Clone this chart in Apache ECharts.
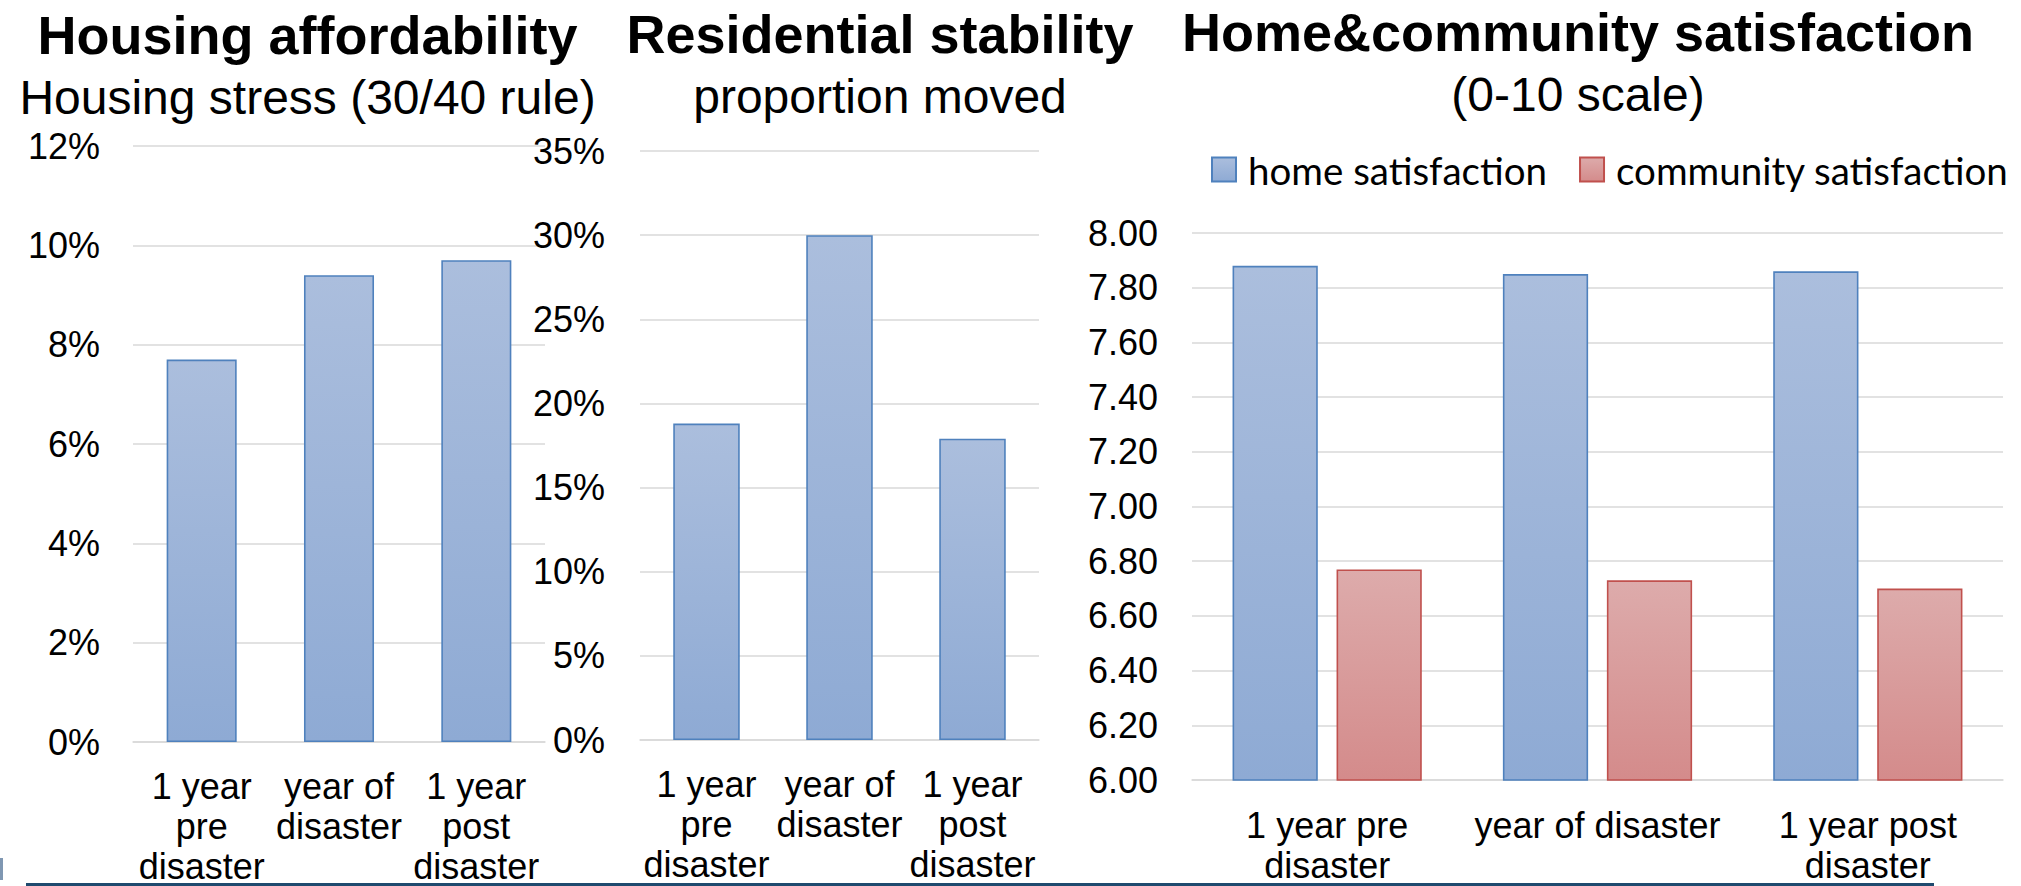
<!DOCTYPE html>
<html>
<head>
<meta charset="utf-8">
<script src="https://cdn.jsdelivr.net/npm/echarts@6/dist/echarts.min.js"></script>
<style>
  html, body { margin: 0; padding: 0; background: #fff; }
  #chart { width: 2021px; height: 886px; }
</style>
</head>
<body>
<div id="chart"></div>
<script>
// Periods on the category axes (narrow panels wrap more)
const periodsStacked = ['1 year\npre\ndisaster', 'year of\ndisaster', '1 year\npost\ndisaster'];
const periodsWide = ['1 year pre\ndisaster', 'year of disaster', '1 year post\ndisaster'];

// Share of households in housing stress (30/40 rule), %
const housingStress = [7.7, 9.4, 9.7];
// Share of households that moved, %
const proportionMoved = [18.8, 30.0, 17.9];
// Mean satisfaction, 0-10 scale
const homeSatisfaction = [7.88, 7.85, 7.86];
const communitySatisfaction = [6.77, 6.73, 6.70];

const seriesNames = ['home satisfaction', 'community satisfaction'];
const panelTitles = ['Housing affordability', 'Residential stability', 'Home&community satisfaction'];
const panelSubtitles = ['Housing stress (30/40 rule)', 'proportion moved', '(0-10 scale)'];

const FONT = '"Liberation Sans", Arial, Helvetica, sans-serif';
const LEGEND_FONT = 'Lato, "Open Sans", sans-serif';
const GRID_GREY = '#d9d9d9';

function vGrad(top, bottom) {
  return new echarts.graphic.LinearGradient(0, 0, 0, 1, [
    { offset: 0, color: top },
    { offset: 1, color: bottom }
  ]);
}
const blueStyle = { color: vGrad('#abbedd', '#8eaad4'), borderColor: '#4f81bd', borderWidth: 1.6 };
const redStyle = { color: vGrad('#ddabab', '#d48b8b'), borderColor: '#c0504d', borderWidth: 1.6 };

// Panel headings: bold title above a regular-weight subtitle
const centers = [307.5, 880, 1578];
const titleTops = [8, 7, 5];
const subTops = [73, 72, 70];
const titles = [];
panelTitles.forEach((t, i) => {
  titles.push({
    text: t, left: centers[i], top: titleTops[i], textAlign: 'center', padding: 0,
    textStyle: { fontFamily: FONT, fontSize: 54, fontWeight: 'bold', color: '#000' }
  });
  titles.push({
    text: panelSubtitles[i], left: centers[i], top: subTops[i], textAlign: 'center', padding: 0,
    textStyle: { fontFamily: FONT, fontSize: 48, fontWeight: 'normal', color: '#000' }
  });
});

function catAxis(gridIndex, data, margin) {
  return {
    type: 'category', gridIndex, data,
    axisTick: { show: false },
    axisLine: { lineStyle: { color: GRID_GREY, width: 1.5 } },
    axisLabel: {
      interval: 0, margin, fontFamily: FONT, fontSize: 36, lineHeight: 40, color: '#000'
    }
  };
}
function valAxis(gridIndex, min, max, interval, formatter, margin) {
  return {
    type: 'value', gridIndex, min, max, interval,
    axisLine: { show: false },
    axisTick: { show: false },
    splitLine: { lineStyle: { color: GRID_GREY, width: 1.5 } },
    axisLabel: { formatter, margin, fontFamily: FONT, fontSize: 36, color: '#000' }
  };
}

const option = {
  animation: false,
  backgroundColor: '#fff',
  title: titles,
  legend: {
    data: seriesNames,
    orient: 'horizontal',
    left: 1211, top: 150, width: 1200, padding: 0,
    icon: 'rect', itemWidth: 24, itemHeight: 24, itemGap: 32,
    textStyle: { fontFamily: LEGEND_FONT, fontSize: 38.5, lineHeight: 24, color: '#000', padding: [0, 0, 0, 7] }
  },
  grid: [
    { left: 133, top: 146, width: 412, height: 598 },
    { left: 640, top: 151, width: 399, height: 589 },
    { left: 1192, top: 233, width: 811, height: 547 }
  ],
  xAxis: [
    catAxis(0, periodsStacked, 24),
    catAxis(1, periodsStacked, 24),
    catAxis(2, periodsWide, 25)
  ],
  yAxis: [
    valAxis(0, 0, 12, 2, '{value}%', 33),
    valAxis(1, 0, 35, 5, '{value}%', 35),
    valAxis(2, 6, 8, 0.2, v => v.toFixed(2), 34)
  ],
  series: [
    { name: 'housing stress', type: 'bar', xAxisIndex: 0, yAxisIndex: 0, data: housingStress,
      barCategoryGap: '49%', itemStyle: blueStyle },
    { name: 'proportion moved', type: 'bar', xAxisIndex: 1, yAxisIndex: 1, data: proportionMoved,
      barCategoryGap: '50%', itemStyle: blueStyle },
    { name: seriesNames[0], type: 'bar', xAxisIndex: 2, yAxisIndex: 2, data: homeSatisfaction,
      barCategoryGap: '30%', barGap: '22%', itemStyle: blueStyle },
    { name: seriesNames[1], type: 'bar', xAxisIndex: 2, yAxisIndex: 2, data: communitySatisfaction,
      barCategoryGap: '30%', barGap: '22%', itemStyle: redStyle }
  ],
  graphic: [
    // slide footer rule
    { type: 'line', shape: { x1: 26, y1: 884.5, x2: 1934, y2: 884.5 },
      style: { stroke: '#1f4a6e', lineWidth: 3 }, silent: true },
    { type: 'rect', shape: { x: 0, y: 858, width: 3, height: 22 },
      style: { fill: '#7f97b2' }, silent: true }
  ]
};

const chart = echarts.init(document.getElementById('chart'), null, { renderer: 'svg' });
chart.setOption(option);
</script>
</body>
</html>
